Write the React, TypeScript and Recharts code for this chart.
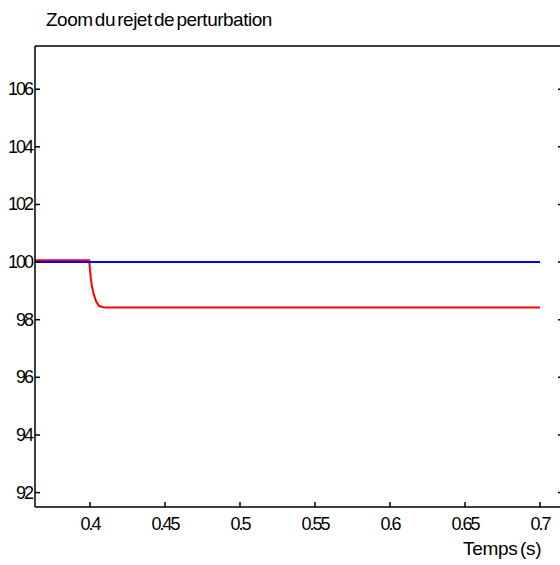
import { Line, LineChart, XAxis, YAxis } from "recharts"

// Time points (s) and values
const consigneTimes = [0.36, 0.7]
const consigneValues = [100, 100]

const sortieTimes = [0.36, 0.3995, 0.4, 0.4005, 0.4013, 0.4025, 0.404, 0.4058, 0.408, 0.41, 0.7]
const sortieValues = [100.06, 100.06, 99.72, 99.45, 99.16, 98.88, 98.65, 98.49, 98.44, 98.42, 98.42]

const xTicks = [0.4, 0.45, 0.5, 0.55, 0.6, 0.65, 0.7]
const yTicks = [92, 94, 96, 98, 100, 102, 104, 106]

const consigne = consigneTimes.map((t, i) => ({ t, v: consigneValues[i] }))
const sortie = sortieTimes.map((t, i) => ({ t, v: sortieValues[i] }))

const font = "'Liberation Sans', Arial, sans-serif"
const TICK = 5
const X_DOMAIN = [0.36333, 0.71533]
const Y_DOMAIN = [91.5, 107.5]

const BottomTick = (props: any) => {
  const { x, y, payload } = props
  return (
    <g>
      <line x1={x} y1={y} x2={x} y2={y - TICK} stroke="#000" strokeWidth={1.5} />
      <text x={x} y={y + 23} textAnchor="middle" fontFamily={font} fontSize={18} letterSpacing={-2} fill="#000">
        {String(payload.value)}
      </text>
    </g>
  )
}

const TopTick = (props: any) => {
  const { x, y } = props
  return <line x1={x} y1={y} x2={x} y2={y + TICK} stroke="#000" strokeWidth={1.5} />
}

const LeftTick = (props: any) => {
  const { x, y, payload } = props
  return (
    <g>
      <line x1={x} y1={y} x2={x + TICK} y2={y} stroke="#000" strokeWidth={1.5} />
      <text x={x - 3} y={y + 6} textAnchor="end" fontFamily={font} fontSize={18} letterSpacing={-2} fill="#000">
        {String(payload.value)}
      </text>
    </g>
  )
}

const RightTick = (props: any) => {
  const { x, y } = props
  return <line x1={x} y1={y} x2={x - TICK} y2={y} stroke="#000" strokeWidth={1.5} />
}

export default function App() {
  return (
    <div style={{ position: "absolute", left: 0, top: 0, width: 560, height: 565, overflow: "hidden", background: "#fff" }}>
      <div
        style={{
          position: "absolute",
          left: 46,
          top: 9,
          fontFamily: font,
          fontSize: 19,
          wordSpacing: -2.5,
          letterSpacing: -0.5,
          whiteSpace: "nowrap",
          color: "#000",
        }}
      >
        Zoom du rejet de perturbation
      </div>
      <div
        style={{
          position: "absolute",
          left: 463,
          top: 538,
          fontFamily: font,
          fontSize: 19,
          wordSpacing: -2.5,
          letterSpacing: -0.3,
          whiteSpace: "nowrap",
          color: "#000",
        }}
      >
        Temps (s)
      </div>
      <LineChart width={564} height={565} margin={{ top: 0, right: 0, bottom: 0, left: 0 }}>
        <XAxis
          xAxisId="bottom"
          dataKey="t"
          type="number"
          domain={X_DOMAIN}
          allowDataOverflow
          ticks={xTicks}
          height={58}
          tickSize={0}
          tickMargin={0}
          tickLine={false}
          axisLine={{ stroke: "#000", strokeWidth: 1.5 }}
          tick={<BottomTick />}
          interval={0}
        />
        <XAxis
          xAxisId="top"
          orientation="top"
          type="number"
          domain={X_DOMAIN}
          allowDataOverflow
          ticks={xTicks}
          height={46}
          tickSize={0}
          tickMargin={0}
          tickLine={false}
          axisLine={{ stroke: "#000", strokeWidth: 1.5 }}
          tick={<TopTick />}
          interval={0}
        />
        <YAxis
          yAxisId="left"
          type="number"
          domain={Y_DOMAIN}
          allowDataOverflow
          ticks={yTicks}
          width={35}
          tickSize={0}
          tickMargin={0}
          tickLine={false}
          axisLine={{ stroke: "#000", strokeWidth: 1.5 }}
          tick={<LeftTick />}
          interval={0}
        />
        <YAxis
          yAxisId="right"
          orientation="right"
          type="number"
          domain={Y_DOMAIN}
          allowDataOverflow
          ticks={yTicks}
          width={1}
          tickSize={0}
          tickMargin={0}
          tickLine={false}
          axisLine={false}
          tick={<RightTick />}
          interval={0}
        />
        <Line
          xAxisId="bottom"
          yAxisId="left"
          data={sortie}
          dataKey="v"
          type="linear"
          stroke="#ff0000"
          strokeWidth={2}
          dot={false}
          activeDot={false}
          isAnimationActive={false}
        />
        <Line
          xAxisId="bottom"
          yAxisId="left"
          data={consigne}
          dataKey="v"
          type="linear"
          stroke="#0000ff"
          strokeWidth={2}
          dot={false}
          activeDot={false}
          isAnimationActive={false}
        />
      </LineChart>
    </div>
  )
}
